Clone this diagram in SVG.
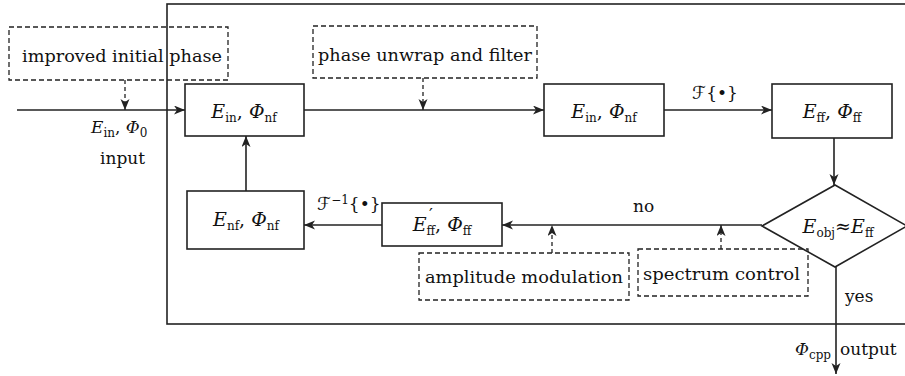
<svg xmlns="http://www.w3.org/2000/svg" width="905" height="376" viewBox="0 0 905 376">
<defs>
<marker id="ah" markerUnits="userSpaceOnUse" markerWidth="12" markerHeight="10" refX="11" refY="4.5" orient="auto">
<path d="M0,0 L11,4.5 L0,9 L3,4.5 z" fill="#222"/>
</marker>
<style>
.box{fill:#fff;stroke:#222;stroke-width:1.6}
.dbox{fill:none;stroke:#222;stroke-width:1.3;stroke-dasharray:5,3}
.ln{fill:none;stroke:#222;stroke-width:1.6;marker-end:url(#ah)}
.dl{fill:none;stroke:#222;stroke-width:1.3;stroke-dasharray:4,3;marker-end:url(#ah)}
text{font-family:"DejaVu Serif","Liberation Serif",serif;fill:#111;font-size:17px}
.m{font-size:19px;text-anchor:middle}
.i{font-style:italic}
.s{font-size:12px}
.sc{font-family:"DejaVu Sans","Noto Sans",sans-serif;font-style:italic;font-size:18px}
</style>
</defs>
<rect x="167" y="4" width="750" height="320" fill="none" stroke="#222" stroke-width="1.6"/>
<g id="connectors">
<path class="ln" d="M17,110 L185,110"/>
<path class="dl" d="M125,80 L125,110"/>
<path class="ln" d="M304,110 L544,110"/>
<path class="dl" d="M423,78 L423,110"/>
<path class="ln" d="M664,110 L772,110"/>
<path class="ln" d="M834,138 L834,185"/>
<path class="ln" d="M762,225 L502,225"/>
<path class="dl" d="M552,253 L552,225"/>
<path class="dl" d="M721,249 L721,225"/>
<path class="ln" d="M382,225 L304,225"/>
<path class="ln" d="M246,191 L246,136"/>
<path class="ln" d="M836,267 L836,374"/>
</g>
<g id="improved">
<rect class="dbox" x="9" y="27" width="219" height="53"/>
<text x="22" y="62" textLength="200" lengthAdjust="spacingAndGlyphs">improved initial phase</text>
</g>
<g id="unwrap">
<rect class="dbox" x="313" y="26" width="224" height="52"/>
<text x="318" y="61" textLength="214" lengthAdjust="spacingAndGlyphs">phase unwrap and filter</text>
</g>
<g id="box1">
<rect class="box" x="185" y="84" width="119" height="52"/>
<text class="m" x="244" y="118"><tspan class="i">E</tspan><tspan class="s" dy="4">in</tspan><tspan dy="-4">, </tspan><tspan class="i">Φ</tspan><tspan class="s" dy="4">nf</tspan></text>
</g>
<g id="box2">
<rect class="box" x="544" y="84" width="120" height="52"/>
<text class="m" x="604" y="118"><tspan class="i">E</tspan><tspan class="s" dy="4">in</tspan><tspan dy="-4">, </tspan><tspan class="i">Φ</tspan><tspan class="s" dy="4">nf</tspan></text>
</g>
<g id="box3">
<rect class="box" x="772" y="84" width="120" height="54"/>
<text class="m" x="832" y="118"><tspan class="i">E</tspan><tspan class="s" dy="4">ff</tspan><tspan dy="-4">, </tspan><tspan class="i">Φ</tspan><tspan class="s" dy="4">ff</tspan></text>
</g>
<g id="decision">
<polygon class="box" points="835,185 907,226 835,267 762,226"/>
<text class="m" x="838" y="233"><tspan class="i">E</tspan><tspan class="s" dy="4">obj</tspan><tspan dy="-4">≈</tspan><tspan class="i">E</tspan><tspan class="s" dy="4">ff</tspan></text>
</g>
<g id="boxEff2">
<rect class="box" x="382" y="203" width="120" height="43"/>
<text class="m" x="442" y="231"><tspan class="i">E</tspan><tspan class="s" dy="4">ff</tspan><tspan dy="-4">, </tspan><tspan class="i">Φ</tspan><tspan class="s" dy="4">ff</tspan></text>
<text x="429" y="220" font-size="12">′</text>
</g>
<g id="boxEnf">
<rect class="box" x="187" y="191" width="117" height="58"/>
<text class="m" x="246" y="226"><tspan class="i">E</tspan><tspan class="s" dy="4">nf</tspan><tspan dy="-4">, </tspan><tspan class="i">Φ</tspan><tspan class="s" dy="4">nf</tspan></text>
</g>
<g id="amplitude">
<rect class="dbox" x="419" y="253" width="210" height="47"/>
<text x="425" y="283" textLength="198" lengthAdjust="spacingAndGlyphs">amplitude modulation</text>
</g>
<g id="spectrum">
<rect class="dbox" x="638" y="249" width="170" height="47"/>
<text x="643" y="280" textLength="157" lengthAdjust="spacingAndGlyphs">spectrum control</text>
</g>
<g id="labels">
<text x="91" y="133" font-size="19"><tspan class="i">E</tspan><tspan class="s" dy="4">in</tspan><tspan dy="-4">, </tspan><tspan class="i">Φ</tspan><tspan class="s" dy="4">0</tspan></text>
<text x="100" y="164">input</text>
<text x="715" y="99" text-anchor="middle" font-size="16"><tspan class="sc">ℱ</tspan>{•}</text>
<text x="317" y="210" font-size="16"><tspan class="sc">ℱ</tspan><tspan class="s" dy="-6">−1</tspan><tspan dy="6">{•}</tspan></text>
<text x="633" y="212">no</text>
<text x="845" y="302">yes</text>
<text x="795" y="355" font-size="19"><tspan class="i">Φ</tspan><tspan class="s" dy="4">cpp</tspan></text>
<text x="840" y="355">output</text>
</g>
</svg>
